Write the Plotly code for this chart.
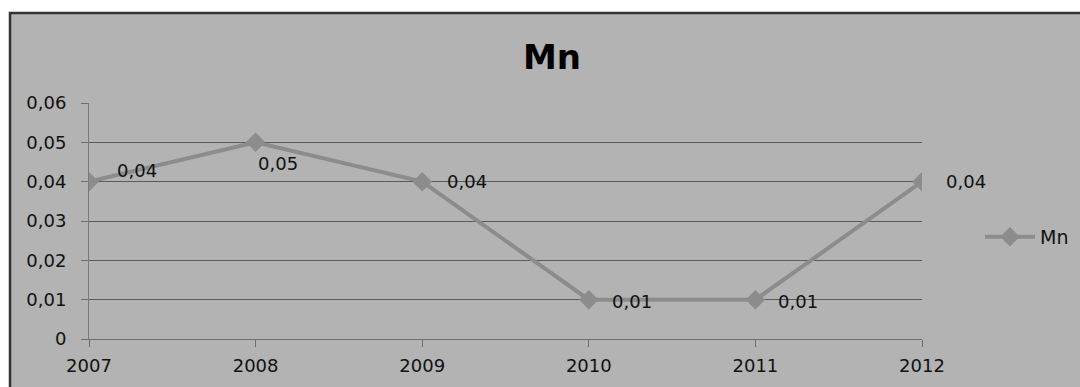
import plotly.graph_objects as go

# Manganese readings per year
years = [2007, 2008, 2009, 2010, 2011, 2012]
mn_values = [0.04, 0.05, 0.04, 0.01, 0.01, 0.04]
y_ticks = [0, 0.01, 0.02, 0.03, 0.04, 0.05, 0.06]
y_tick_text = ["0", "0,01", "0,02", "0,03", "0,04", "0,05", "0,06"]

# label offsets (px) for the value labels next to each point
label_dx = [48, 22, 45, 43, 43, 44]
label_dy = [11, -21, 0, -2, -2, 0]

W, H = 1080, 387
ML, MR, MT, MB = 89, 158, 103, 48
PW, PH = W - ML - MR, H - MT - MB


def px_to_paper_x(px):
    return (px - ML) / PW


def px_to_paper_y(py):
    return 1 - (py - MT) / PH


font_main = "DejaVu Sans"
line_color = "#8c8c8c"
grid_color = "#5a5a5a"

fig = go.Figure()
fig.add_trace(go.Scatter(
    x=years, y=mn_values, name="Mn", mode="lines+markers",
    line=dict(color=line_color, width=4),
    marker=dict(symbol="diamond", size=15, color=line_color),
))

for x, v, dx, dy in zip(years, mn_values, label_dx, label_dy):
    fig.add_annotation(
        x=x, y=v, text=f"{v:.2f}".replace(".", ","), showarrow=False,
        xshift=dx, yshift=dy, font=dict(family=font_main, size=18, color="#111"),
    )

# grey chart area with dark frame
fig.add_shape(
    type="rect", xref="paper", yref="paper", layer="below",
    x0=px_to_paper_x(10), x1=px_to_paper_x(W + 10),
    y0=px_to_paper_y(H + 10), y1=px_to_paper_y(13),
    fillcolor="#b3b3b3", line=dict(color="#333333", width=2.5),
)

fig.update_layout(
    width=W, height=H,
    margin=dict(l=ML, r=MR, t=MT, b=MB, autoexpand=False),
    paper_bgcolor="white", plot_bgcolor="rgba(0,0,0,0)",
    title=dict(text="<b>Mn</b>", x=px_to_paper_x(552), xref="paper",
               xanchor="center", y=1 - 57 / H, yanchor="middle",
               font=dict(family=font_main, size=34, color="black")),
    showlegend=True,
    legend=dict(x=px_to_paper_x(980), y=px_to_paper_y(237), xanchor="left",
                yanchor="middle", bgcolor="rgba(0,0,0,0)", itemwidth=50,
                font=dict(family=font_main, size=19, color="#111")),
    xaxis=dict(range=[2007, 2012], tickvals=years, ticktext=[str(y) for y in years],
               automargin=False,
               showgrid=False, zeroline=False, showline=True, linecolor="#6e6e6e",
               linewidth=1, ticks="outside", ticklen=7, tickcolor="#6e6e6e",
               ticklabelstandoff=3,
               tickfont=dict(family=font_main, size=18, color="#111")),
    yaxis=dict(range=[0, 0.06], tickvals=y_ticks, ticktext=y_tick_text,
               automargin=False,
               showgrid=True, gridcolor=grid_color, gridwidth=1, zeroline=False,
               showline=True, linecolor="#7a7a7a", linewidth=1,
               ticks="outside", ticklen=7, tickcolor="#6e6e6e",
               ticklabelstandoff=11,
               tickfont=dict(family=font_main, size=18, color="#111")),
)

fig.write_html("out.html")
